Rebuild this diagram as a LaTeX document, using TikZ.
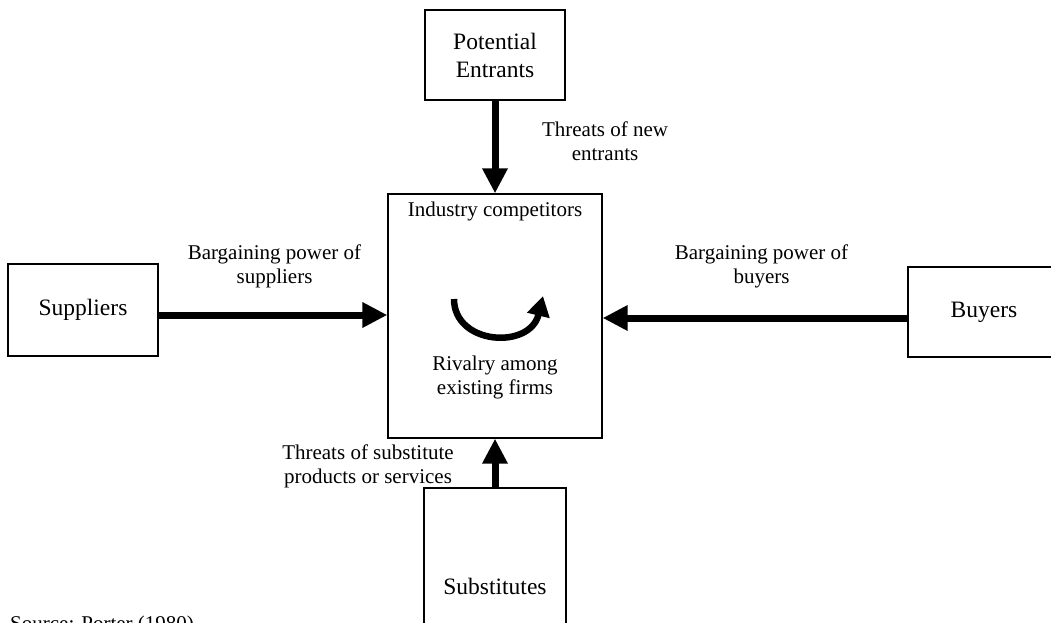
\documentclass[tikz,border=0pt]{standalone}
\usepackage{fontspec}
\setmainfont{Liberation Serif}
\usetikzlibrary{arrows.meta}
\begin{document}
\begin{tikzpicture}[x=1pt,y=-1pt,
  box/.style={draw, line width=1.3pt, inner sep=0pt, align=center,
              font=\fontsize{23.5}{28}\selectfont},
  note/.style={align=center, inner sep=0pt, font=\fontsize{21}{24}\selectfont},
  force/.style={line width=7pt, -{Triangle[length=25pt,width=24pt]}},
  rivalry/.style={line width=6.5pt, -{Triangle[length=20pt,width=22pt]}},
]
\useasboundingbox (0,0) rectangle (1051,623);

% the five forces
\node[box, minimum width=140pt, minimum height=90pt]  (pe)  at (495,55)  {Potential\\Entrants};
\node[box, minimum width=214pt, minimum height=244pt] (cen) at (495,316) {};
\node[box, minimum width=150pt, minimum height=92pt]  (sup) at (83,310)  {Suppliers};
\node[box, minimum width=152pt, minimum height=90pt]  (buy) at (984,312) {Buyers};
\node[box, minimum width=142pt, minimum height=196pt] (sub) at (495,586) {Substitutes};

% labels
\node[note] (ic)  at (495,211)   {Industry competitors};
\node[note] (riv) at (495,377)   {Rivalry among\\existing firms};
\node[note] (tne) at (605,141)   {Threats of new\\entrants};
\node[note] (bps) at (274.5,266) {Bargaining power of\\suppliers};
\node[note] (bpb) at (761.5,266) {Bargaining power of\\buyers};
\node[note] (tsp) at (368,466)   {Threats of substitute\\products or services};
\node[note, anchor=base west] (src) at (10,630) {Source: Porter (1980)};

% forces acting on the industry
\draw[force] (pe.south) -- (cen.north);
\draw[force] (sub.north) -- (cen.south);
\draw[force] ([yshift=-5pt]sup.east) -- ([yshift=1pt]cen.west);
\draw[force] ([yshift=-6pt]buy.west) -- ([yshift=-2pt]cen.east);

% rivalry loop
\coordinate (r1) at (454,299);
\coordinate (r2) at (543,296);
\draw[rivalry] (r1) .. controls (454,345) and (530,350) .. (r2);
\end{tikzpicture}
\end{document}
